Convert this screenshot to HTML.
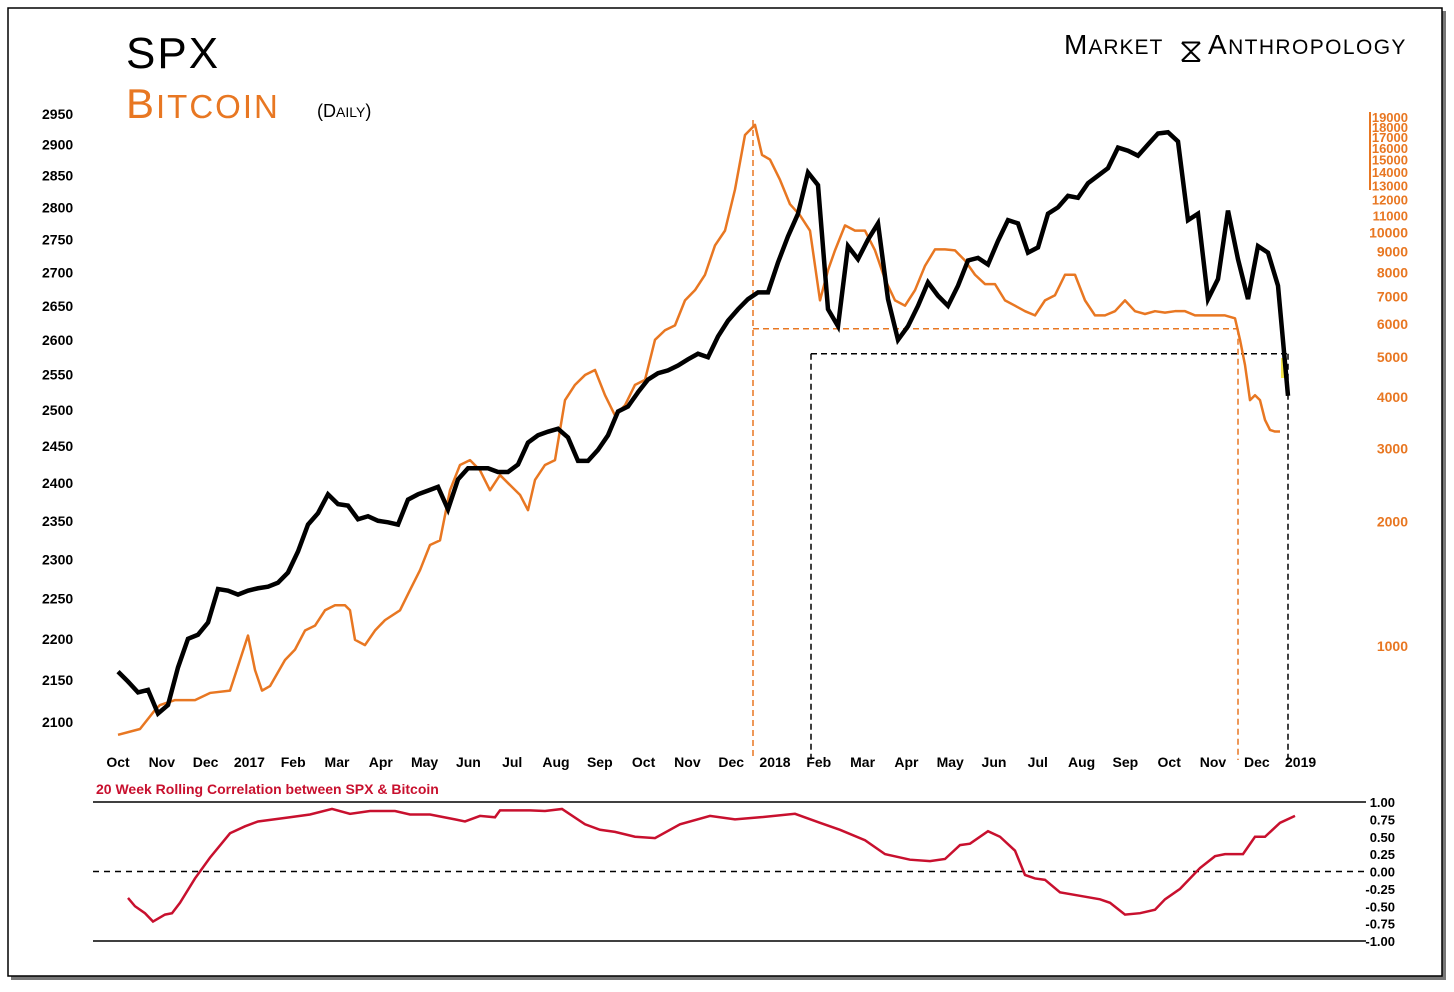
<!DOCTYPE html>
<html><head><meta charset="utf-8">
<style>
html,body{margin:0;padding:0;background:#fff;}
body{width:1454px;height:987px;overflow:hidden;font-family:"Liberation Sans",sans-serif;}
svg text{font-family:"Liberation Sans",sans-serif;}
</style></head>
<body>
<svg id="chart" width="1454" height="987" xmlns="http://www.w3.org/2000/svg">
<rect x="11" y="11" width="1435" height="969" fill="#777"/>
<rect x="8" y="8" width="1434" height="968" fill="#fff" stroke="#000" stroke-width="1.5"/>
<text x="126" y="68" font-size="44" fill="#000" letter-spacing="2">SPX</text>
<text x="126" y="118" font-size="42" fill="#e87722" letter-spacing="2">B<tspan font-size="33">ITCOIN</tspan></text>
<text x="317" y="117" font-size="18" fill="#000">(D<tspan font-size="14">AILY</tspan>)</text>
<text x="1064" y="54" font-size="28" fill="#000" font-family="Liberation Serif" letter-spacing="1">M<tspan font-size="21">ARKET</tspan></text>
<text x="1179" y="62" font-size="34" fill="#000">⧖</text>
<text x="1208" y="54" font-size="28" fill="#000" font-family="Liberation Serif" letter-spacing="1.4">A<tspan font-size="21">NTHROPOLOGY</tspan></text>
<g id="lax"></g><g id="rax"></g><g id="xax"></g>
<g id="guides"></g>
<g id="series"></g>
<g id="corr"></g>
</svg>
<script>
const spxValues=[2160,2148,2135,2138,2110,2120,2165,2200,2205,2220,2262,2260,2255,2260,2263,2265,2270,2283,2310,2345,2360,2385,2372,2370,2352,2356,2350,2348,2345,2378,2385,2390,2395,2365,2405,2420,2420,2420,2415,2415,2425,2455,2465,2470,2474,2462,2430,2430,2445,2465,2498,2505,2525,2543,2552,2556,2563,2572,2580,2575,2605,2628,2645,2660,2670,2670,2715,2755,2790,2855,2835,2645,2620,2740,2720,2750,2775,2660,2600,2620,2650,2685,2665,2650,2680,2718,2722,2712,2748,2780,2775,2730,2738,2790,2800,2818,2815,2838,2850,2862,2895,2890,2882,2900,2918,2920,2905,2780,2790,2660,2690,2795,2720,2660,2740,2730,2680,2520];
const btcWeeks=[0,2.2,3.7,4.2,5.7,7.7,9.2,11.2,12.2,13,13.7,14.4,15.2,16.7,17.7,18.7,19.7,20.7,21.7,22.7,23.2,23.7,24.7,25.7,26.7,28.2,29.2,30.2,31.2,32.2,33.2,34.2,35.2,36.2,37.2,38.2,39.2,40.2,41,41.7,42.7,43.7,44.7,45.7,46.7,47.7,48.7,49.7,50.7,51.7,52.7,53.7,54.7,55.7,56.7,57.7,58.7,59.7,60.7,61.7,62.7,63.7,64.4,65.2,66.2,67.2,68.2,69.2,70.2,71,71.7,72.7,73.7,74.7,75.7,76.7,77.7,78.7,79.7,80.7,81.7,82.7,83.7,84.7,85.7,86.7,87.7,88.7,89.7,90.7,91.7,92.7,93.7,94.7,95.7,96.7,97.7,98.7,99.7,100.7,101.7,102.7,103.7,104.7,105.7,106.7,107.7,108.7,109.7,110.7,111.7,112.2,112.7,113.2,113.7,114.2,114.7,115.2,115.7,116.2];
const btcValues=[610,630,700,720,740,740,770,780,925,1060,875,780,800,925,980,1090,1120,1220,1255,1255,1220,1035,1005,1090,1155,1220,1365,1525,1755,1800,2380,2740,2815,2660,2380,2590,2450,2320,2130,2520,2740,2815,3930,4280,4520,4650,4040,3610,3820,4280,4400,5500,5800,5960,6850,7250,7900,9300,10100,12700,17200,18200,15400,15000,13400,11700,11000,10100,6850,8100,9050,10400,10100,10100,9050,7700,6850,6650,7250,8300,9100,9100,9050,8550,7900,7500,7500,6850,6650,6450,6300,6850,7050,7900,7900,6850,6300,6300,6450,6850,6450,6350,6450,6400,6450,6450,6300,6300,6300,6300,6200,5500,4780,3930,4040,3930,3520,3330,3300,3300];
const corrWeeks=[1,1.7,2.7,3.5,4.7,5.4,6.2,7.7,9.2,11.2,12.7,14,17.2,19.2,21.4,23.2,25.2,27.7,29.2,31.2,33.7,34.7,36.2,37.7,38.2,41.2,42.7,44.4,46.7,48.2,49.7,51.7,53.7,56.2,59.2,61.7,64.2,67.7,70.2,72.2,74.7,76.7,79.2,81.2,82.7,84.2,85.2,87,88.2,89.7,90.7,91.7,92.7,94.2,96.2,98.2,99.2,100.7,102.2,103.7,104.7,106.2,108.2,109.7,110.7,112.5,113.7,114.7,116.2,117.7];
const corrValues=[-0.38,-0.5,-0.6,-0.72,-0.62,-0.6,-0.45,-0.1,0.2,0.55,0.65,0.72,0.78,0.82,0.9,0.83,0.87,0.87,0.82,0.82,0.75,0.72,0.8,0.78,0.88,0.88,0.87,0.9,0.68,0.6,0.57,0.5,0.48,0.68,0.8,0.75,0.78,0.83,0.7,0.6,0.45,0.25,0.17,0.15,0.18,0.38,0.4,0.58,0.5,0.3,-0.05,-0.1,-0.12,-0.3,-0.35,-0.4,-0.45,-0.62,-0.6,-0.55,-0.4,-0.25,0.05,0.22,0.25,0.25,0.5,0.5,0.7,0.8];
const spxTicks=[2950,2900,2850,2800,2750,2700,2650,2600,2550,2500,2450,2400,2350,2300,2250,2200,2150,2100];
const btcTicks=[19000,18000,17000,16000,15000,14000,13000,12000,11000,10000,9000,8000,7000,6000,5000,4000,3000,2000,1000];
const monthLabels=["Oct","Nov","Dec","2017","Feb","Mar","Apr","May","Jun","Jul","Aug","Sep","Oct","Nov","Dec","2018","Feb","Mar","Apr","May","Jun","Jul","Aug","Sep","Oct","Nov","Dec","2019"];
const corrTicks=[1,0.75,0.5,0.25,0,-0.25,-0.5,-0.75,-1];
const bitcoinLow=5850, spxLow=2580;

const NS="http://www.w3.org/2000/svg";
const xW=w=>118+w*10;
const xM=m=>118+m*43.8;
const yL=v=>722-1789*Math.log(v/2100);
const yR=v=>646-124.5*Math.log2(v/1000);
const yC=v=>871.5-69.5*v;
function mk(tag,parent,attrs){const e=document.createElementNS(NS,tag);for(const k in attrs)e.setAttribute(k,attrs[k]);document.getElementById(parent).appendChild(e);return e;}

spxTicks.forEach(v=>{const t=mk('text','lax',{x:42,y:yL(v)+5,'font-size':14,'font-weight':'bold',fill:'#000'});t.textContent=v;

});
mk('line','rax',{x1:1370,x2:1370,y1:112,y2:190,stroke:'#e87722','stroke-width':2});
btcTicks.forEach(v=>{const t=mk('text','rax',{x:1408,y:yR(v)+5,'font-size':v>=11000?13:14,'font-weight':'bold',fill:'#e87722','text-anchor':'end'});t.textContent=v;

});
monthLabels.forEach((l,i)=>{const t=mk('text','xax',{x:xM(i),y:767,'font-size':14,'font-weight':'bold',fill:'#000','text-anchor':'middle'});t.textContent=l;

});

const spxEnd=xW(spxValues.length-1);
const guides=[
 [753,yR(bitcoinLow),1238,yR(bitcoinLow),'#e87722'],[753,120,753,760,'#e87722'],[1238,yR(bitcoinLow),1238,760,'#e87722'],
 [811,yL(spxLow),spxEnd,yL(spxLow),'#000'],[811,yL(spxLow),811,760,'#000'],[spxEnd,yL(spxLow),spxEnd,760,'#000']];
guides.forEach(g=>{const l=mk('line','guides',{x1:g[0],y1:g[1],x2:g[2],y2:g[3],stroke:g[4],'stroke-width':1.5,'stroke-dasharray':'6,4'});

});
const hl=mk('rect','guides',{x:1281,y:358,width:4,height:20,fill:'#f5e64a'});



const bp=mk('polyline','series',{points:btcWeeks.map((w,i)=>xW(w)+','+yR(btcValues[i])).join(' '),fill:'none',stroke:'#e87722','stroke-width':2.5,'stroke-linejoin':'round'});


const sp=mk('polyline','series',{points:spxValues.map((v,i)=>xW(i)+','+yL(v)).join(' '),fill:'none',stroke:'#000','stroke-width':4.5,'stroke-linejoin':'miter'});



const ct=mk('text','corr',{x:96,y:794,'font-size':14,'font-weight':'bold',fill:'#c8102e'});ct.textContent='20 Week Rolling Correlation between SPX & Bitcoin';


[[yC(1),''],[yC(-1),''],[yC(0),'6,5']].forEach(a=>{const l=mk('line','corr',{x1:93,x2:1366,y1:a[0],y2:a[0],stroke:'#000','stroke-width':1.5});if(a[1])l.setAttribute('stroke-dasharray',a[1]);

});
corrTicks.forEach(v=>{const t=mk('text','corr',{x:1395,y:yC(v)+5,'font-size':13,'font-weight':'bold',fill:'#000','text-anchor':'end'});t.textContent=v.toFixed(2);

});
const cp=mk('polyline','corr',{points:corrWeeks.map((w,i)=>xW(w)+','+yC(corrValues[i])).join(' '),fill:'none',stroke:'#c8102e','stroke-width':2.5});


</script>
</body></html>
